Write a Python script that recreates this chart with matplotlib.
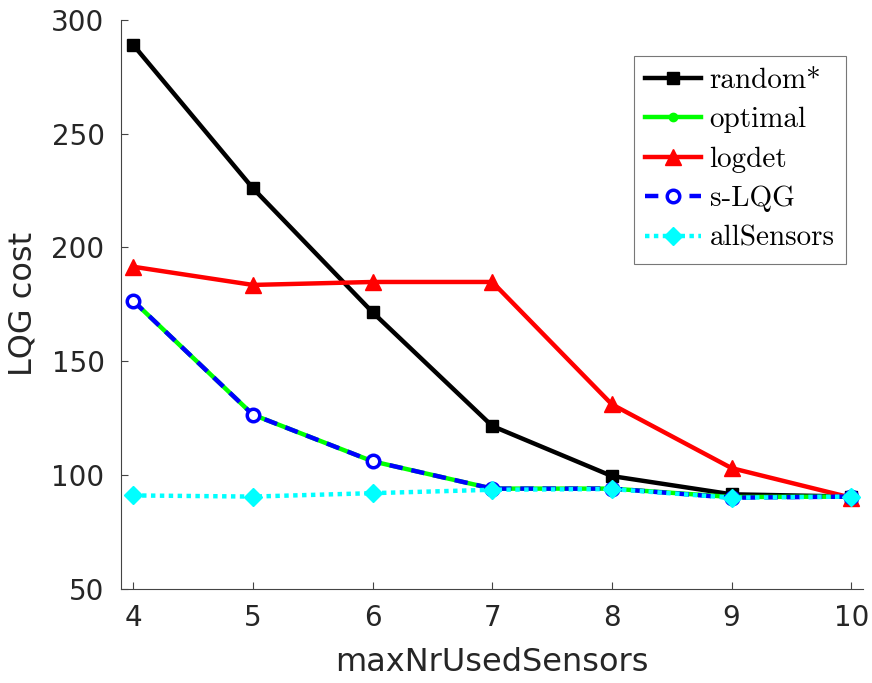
import matplotlib
matplotlib.use("Agg")
import matplotlib.pyplot as plt

sensors = [4, 5, 6, 7, 8, 9, 10]
random_cost = [289, 226, 171.5, 121.5, 99.5, 91.5, 90.5]
optimal_cost = [176.5, 126.5, 106, 94, 94, 90.3, 90.5]
logdet_cost = [191.5, 183.5, 184.8, 184.8, 131, 103, 90]
slqg_cost = [176.5, 126.5, 106, 94, 94, 90, 90.5]
all_cost = [91, 90.5, 92, 93.5, 93.8, 90, 90.5]

fig = plt.figure(figsize=(8.72, 6.83), dpi=100)
ax = fig.add_axes([0.139, 0.138, 0.851, 0.833])

ax.plot(sensors, random_cost, color='black', lw=3.2, marker='s', ms=8, label='random*')
ax.plot(sensors, optimal_cost, color='#00ff00', lw=3.2, marker='o', ms=6, label='optimal')
ax.plot(sensors, logdet_cost, color='red', lw=3.2, marker='^', ms=11, label='logdet')
ax.plot(sensors, slqg_cost, color='blue', lw=3.2, ls='--', dashes=(3, 2), marker='o', ms=9,
        mfc='white', mew=2.5, label='s-LQG')
ax.plot(sensors, all_cost, color='cyan', lw=3.2, ls=':', dashes=(1, 1), marker='D', ms=9,
        label='allSensors')

ax.set_xlim(3.9, 10.1)
ax.set_ylim(50, 300)
ax.set_xticks(sensors)
ax.set_yticks([50, 100, 150, 200, 250, 300])
ax.tick_params(direction='in', labelsize=20, length=5, color='#444444', labelcolor='#262626')
ax.tick_params(axis='x', pad=11)
ax.tick_params(axis='y', pad=12)
ax.spines['top'].set_visible(False)
ax.spines['right'].set_visible(False)
ax.spines['left'].set_color('#444444')
ax.spines['bottom'].set_color('#444444')
ax.set_xlabel('maxNrUsedSensors', fontsize=23, color='#262626', labelpad=11)
ax.set_ylabel('LQG cost', fontsize=23, color='#262626', labelpad=9)

leg = ax.legend(loc='upper right', bbox_to_anchor=(0.977, 0.937), borderaxespad=0,
                prop={'family': 'cmr10', 'size': 21},
                fancybox=False, edgecolor='#555555', handlelength=1.9, handletextpad=0.3,
                labelspacing=0.45, borderpad=0.4)
leg.get_frame().set_linewidth(0.8)

fig.savefig('out.png', dpi=100)
